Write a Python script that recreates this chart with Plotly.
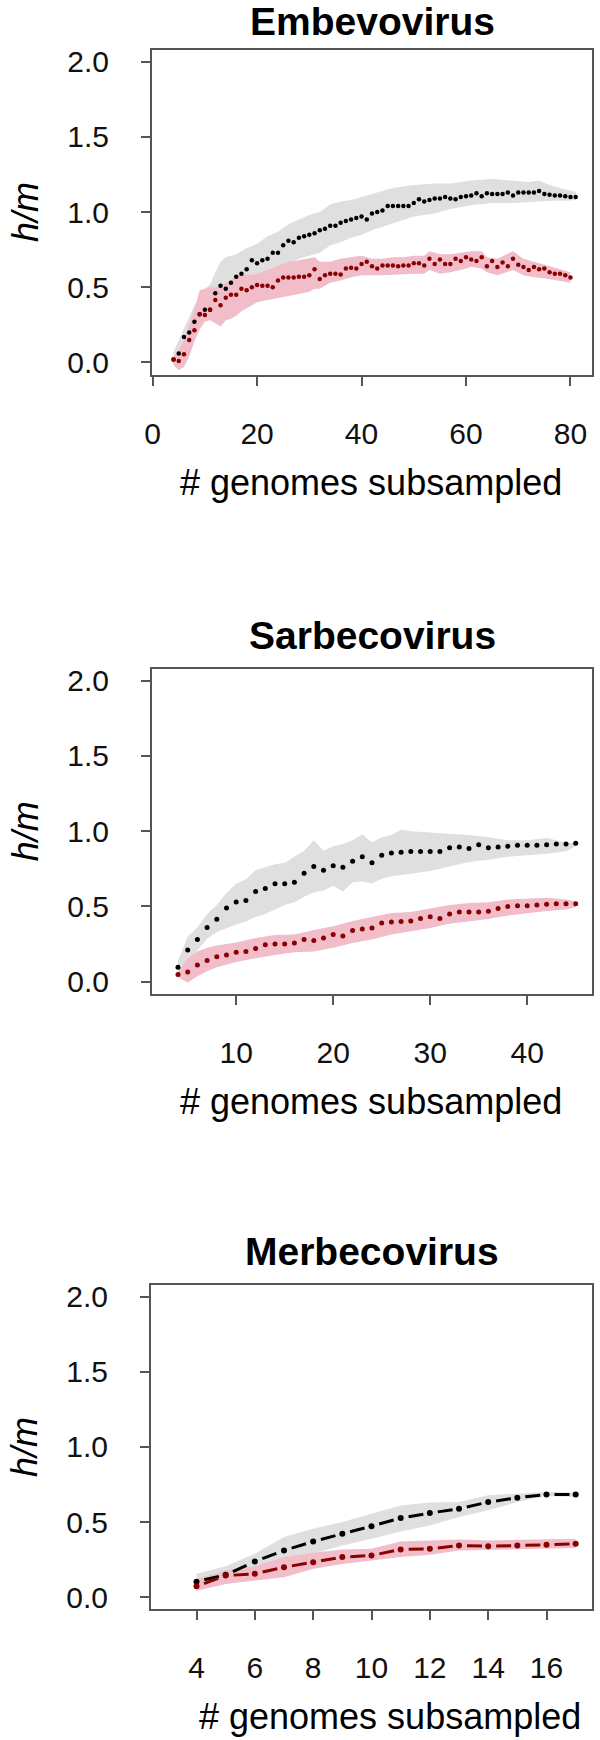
import plotly.graph_objects as go

# ---- Embevovirus ----
emb_x_black = [4, 5, 6, 7, 8, 9, 10, 11, 12, 13, 14, 15, 16, 17, 18, 19, 20, 21, 22, 23, 24, 25, 26, 27, 28, 29,
               30, 31, 32, 33, 34, 35, 36, 37, 38, 39, 40, 41, 42, 43, 44, 45, 46, 47, 48, 49, 50, 51, 52, 53, 54,
               55, 56, 57, 58, 59, 60, 61, 62, 63, 64, 65, 66, 67, 68, 69, 70, 71, 72, 73, 74, 75, 76, 77, 78, 79,
               80, 81]
emb_black = [0.02, 0.06, 0.17, 0.20, 0.27, 0.32, 0.35, 0.35, 0.46, 0.51, 0.49, 0.53, 0.57, 0.59, 0.62, 0.68,
             0.66, 0.68, 0.69, 0.73, 0.73, 0.78, 0.81, 0.80, 0.83, 0.84, 0.85, 0.86, 0.88, 0.89, 0.91, 0.91,
             0.93, 0.94, 0.95, 0.96, 0.97, 0.95, 0.99, 1.00, 1.01, 1.04, 1.04, 1.04, 1.04, 1.04, 1.06, 1.085,
             1.07, 1.08, 1.09, 1.09, 1.10, 1.09, 1.085, 1.10, 1.105, 1.11, 1.125, 1.105, 1.125, 1.12, 1.12,
             1.12, 1.13, 1.11, 1.13, 1.13, 1.13, 1.13, 1.14, 1.12, 1.115, 1.11, 1.11, 1.105, 1.10, 1.10]
emb_x_red = emb_x_black[:-1]
emb_red = [0.02, 0.01, 0.055, 0.15, 0.215, 0.32, 0.315, 0.35, 0.415, 0.38, 0.43, 0.45, 0.45, 0.49, 0.48, 0.50,
           0.515, 0.51, 0.51, 0.50, 0.545, 0.565, 0.565, 0.565, 0.57, 0.57, 0.58, 0.62, 0.555, 0.58, 0.59, 0.59,
           0.585, 0.625, 0.63, 0.625, 0.655, 0.67, 0.64, 0.625, 0.645, 0.645, 0.645, 0.64, 0.645, 0.645, 0.66,
           0.66, 0.645, 0.69, 0.655, 0.685, 0.655, 0.655, 0.69, 0.675, 0.70, 0.685, 0.675, 0.70, 0.64, 0.675,
           0.635, 0.665, 0.64, 0.69, 0.65, 0.635, 0.615, 0.635, 0.62, 0.625, 0.60, 0.59, 0.59, 0.58, 0.565]
emb_band_x_grey = [4, 6, 8, 10, 11, 12, 13, 14, 16, 18, 20, 22, 24, 26, 28, 30, 32, 34, 36, 38, 40, 42, 46, 50,
                   54, 57, 61, 65, 69, 72, 74, 76, 79, 81]
emb_grey_hi = [0.07, 0.22, 0.38, 0.49, 0.52, 0.60, 0.67, 0.70, 0.72, 0.76, 0.79, 0.84, 0.87, 0.92, 0.95, 0.98,
               1.00, 1.05, 1.07, 1.08, 1.10, 1.12, 1.16, 1.18, 1.19, 1.19, 1.21, 1.22, 1.21, 1.20, 1.21, 1.18,
               1.15, 1.135]
emb_grey_lo = [-0.01, 0.12, 0.24, 0.33, 0.36, 0.40, 0.42, 0.45, 0.48, 0.52, 0.56, 0.60, 0.63, 0.66, 0.69, 0.71,
               0.73, 0.78, 0.80, 0.83, 0.85, 0.88, 0.925, 0.97, 0.99, 1.02, 1.045, 1.06, 1.06, 1.07, 1.07, 1.075,
               1.075, 1.08]
emb_band_x_pink = [4, 5, 6, 7, 8, 9, 10, 11, 12, 13, 14, 15, 16, 17, 18, 20, 22, 24, 26, 28, 30, 31, 32, 34, 36,
                   38, 40, 42, 44, 46, 48, 50, 52, 53, 55, 57, 59, 61, 63, 64, 66, 69, 71, 73, 75, 77, 80]
emb_pink_hi = [0.04, 0.08, 0.15, 0.25, 0.35, 0.48, 0.49, 0.50, 0.50, 0.51, 0.53, 0.55, 0.57, 0.59, 0.58, 0.59,
               0.615, 0.64, 0.67, 0.68, 0.69, 0.70, 0.67, 0.67, 0.69, 0.70, 0.71, 0.69, 0.69, 0.70, 0.70, 0.71,
               0.71, 0.74, 0.72, 0.72, 0.73, 0.74, 0.74, 0.70, 0.69, 0.74, 0.69, 0.67, 0.65, 0.63, 0.60]
emb_pink_lo = [-0.02, -0.05, -0.03, 0.04, 0.14, 0.22, 0.27, 0.28, 0.26, 0.24, 0.28, 0.29, 0.31, 0.34, 0.36, 0.40,
               0.415, 0.43, 0.44, 0.455, 0.47, 0.49, 0.49, 0.53, 0.545, 0.566, 0.58, 0.58, 0.58, 0.585, 0.585,
               0.59, 0.59, 0.615, 0.59, 0.60, 0.615, 0.637, 0.625, 0.60, 0.58, 0.615, 0.58, 0.566, 0.56, 0.55, 0.53]

# ---- Sarbecovirus ----
sar_x = [4, 5, 6, 7, 8, 9, 10, 11, 12, 13, 14, 15, 16, 17, 18, 19, 20, 21, 22, 23, 24, 25, 26, 27, 28, 29, 30,
         31, 32, 33, 34, 35, 36, 37, 38, 39, 40, 41, 42, 43, 44, 45]
sar_black = [0.095, 0.21, 0.28, 0.36, 0.415, 0.49, 0.53, 0.54, 0.60, 0.62, 0.65, 0.65, 0.66, 0.72, 0.765, 0.74,
             0.77, 0.76, 0.80, 0.83, 0.79, 0.84, 0.855, 0.86, 0.865, 0.865, 0.865, 0.865, 0.89, 0.895, 0.885,
             0.91, 0.89, 0.895, 0.90, 0.907, 0.907, 0.907, 0.91, 0.915, 0.915, 0.92]
sar_red = [0.048, 0.064, 0.11, 0.14, 0.166, 0.178, 0.195, 0.20, 0.22, 0.245, 0.25, 0.25, 0.257, 0.28, 0.273, 0.29,
           0.314, 0.304, 0.34, 0.35, 0.356, 0.39, 0.397, 0.40, 0.404, 0.42, 0.432, 0.42, 0.45, 0.463, 0.463,
           0.463, 0.468, 0.487, 0.50, 0.504, 0.504, 0.51, 0.515, 0.518, 0.518, 0.518]
sar_band_x_grey = [4, 5, 6, 7, 8, 9, 10, 11, 12, 13, 14, 15, 16, 17, 18, 19, 20, 21, 22, 23, 24, 25, 26, 27, 28,
                   30, 32, 34, 36, 38, 40, 42, 44, 45]
sar_grey_hi = [0.14, 0.30, 0.36, 0.45, 0.51, 0.59, 0.65, 0.68, 0.74, 0.76, 0.78, 0.79, 0.83, 0.87, 0.94, 0.87,
               0.90, 0.915, 0.94, 0.98, 0.925, 0.96, 0.975, 1.01, 1.0, 0.99, 0.985, 0.975, 0.96, 0.94, 0.94,
               0.955, 0.925, 0.92]
sar_grey_lo = [0.095, 0.13, 0.21, 0.285, 0.33, 0.356, 0.38, 0.40, 0.43, 0.45, 0.48, 0.51, 0.527, 0.565, 0.594,
               0.606, 0.637, 0.60, 0.66, 0.665, 0.653, 0.684, 0.70, 0.71, 0.717, 0.736, 0.765, 0.796, 0.81, 0.83,
               0.84, 0.85, 0.867, 0.90]
sar_band_x_pink = [4, 5, 6, 7, 8, 10, 12, 14, 16, 18, 20, 22, 24, 26, 28, 30, 32, 34, 36, 38, 40, 42, 44, 45]
sar_pink_hi = [0.07, 0.155, 0.20, 0.225, 0.24, 0.26, 0.29, 0.31, 0.314, 0.344, 0.368, 0.404, 0.43, 0.456, 0.463,
               0.487, 0.51, 0.523, 0.527, 0.546, 0.553, 0.558, 0.546, 0.534]
sar_pink_lo = [0.03, -0.005, 0.036, 0.07, 0.095, 0.13, 0.155, 0.178, 0.195, 0.20, 0.225, 0.257, 0.28, 0.314,
               0.333, 0.356, 0.385, 0.40, 0.416, 0.44, 0.456, 0.47, 0.48, 0.494]

# ---- Merbecovirus ----
mer_x = [4, 5, 6, 7, 8, 9, 10, 11, 12, 13, 14, 15, 16, 17]
mer_black = [0.104, 0.149, 0.238, 0.311, 0.371, 0.422, 0.473, 0.527, 0.56, 0.589, 0.633, 0.662, 0.684, 0.684]
mer_red = [0.073, 0.144, 0.156, 0.20, 0.233, 0.267, 0.278, 0.318, 0.322, 0.344, 0.34, 0.344, 0.349, 0.356]
mer_grey_hi = [0.156, 0.207, 0.29, 0.40, 0.456, 0.50, 0.556, 0.61, 0.63, 0.633, 0.678, 0.69, 0.70, 0.696]
mer_grey_lo = [0.067, 0.122, 0.178, 0.233, 0.29, 0.344, 0.39, 0.438, 0.478, 0.533, 0.578, 0.633, 0.673, 0.667]
mer_pink_hi = [0.122, 0.178, 0.207, 0.267, 0.296, 0.318, 0.322, 0.371, 0.378, 0.384, 0.378, 0.382, 0.389, 0.389]
mer_pink_lo = [0.044, 0.089, 0.111, 0.133, 0.189, 0.222, 0.244, 0.267, 0.282, 0.311, 0.311, 0.318, 0.322, 0.327]

titles = ["Embevovirus", "Sarbecovirus", "Merbecovirus"]
x_ticks = [[0, 20, 40, 60, 80], [10, 20, 30, 40], [4, 6, 8, 10, 12, 14, 16]]
x_ranges = [[-0.12, 84.12], [1.32, 46.68], [2.44, 17.56]]
y_ticks = [0, 0.5, 1.0, 1.5, 2.0]

GREY_BAND = "#dfdfdf"
PINK_BAND = "#f0bdc8"
BLACK = "#000000"
DARK_RED = "#8b0000"
AXIS = "#555555"
FONT = "Arial, Liberation Sans, sans-serif"

W, H = 600, 1740
# plot boxes in pixels: (left, top, right, bottom)
boxes = [(152, 49.7, 592, 374.5), (152, 668.7, 592, 993.7), (151, 1284.5, 592, 1609.3)]


def band(fig, x, hi, lo, color, n):
    fig.add_trace(go.Scatter(
        x=list(x) + list(x)[::-1], y=list(hi) + list(lo)[::-1],
        fill="toself", fillcolor=color, mode="lines", line={"width": 0},
        hoverinfo="skip", showlegend=False, xaxis=f"x{n}", yaxis=f"y{n}",
    ))


def dots(fig, x, y, color, n, size):
    fig.add_trace(go.Scatter(
        x=x, y=y, mode="markers", marker={"color": color, "size": size},
        showlegend=False, xaxis=f"x{n}", yaxis=f"y{n}",
    ))


def dashdot(fig, x, y, color, n):
    # one dash between each pair of neighbouring points, dot on each point
    for i in range(len(x) - 1):
        fig.add_trace(go.Scatter(
            x=x[i:i + 2], y=y[i:i + 2], mode="lines",
            line={"color": color, "width": 3, "dash": "1px,7px,15px,40px"},
            showlegend=False, xaxis=f"x{n}", yaxis=f"y{n}",
        ))
    dots(fig, x, y, color, n, 6)


fig = go.Figure()

band(fig, emb_band_x_grey, emb_grey_hi, emb_grey_lo, GREY_BAND, 1)
band(fig, emb_band_x_pink, emb_pink_hi, emb_pink_lo, PINK_BAND, 1)
dots(fig, emb_x_black, emb_black, BLACK, 1, 4.5)
dots(fig, emb_x_red, emb_red, DARK_RED, 1, 4.5)

band(fig, sar_band_x_grey, sar_grey_hi, sar_grey_lo, GREY_BAND, 2)
band(fig, sar_band_x_pink, sar_pink_hi, sar_pink_lo, PINK_BAND, 2)
dots(fig, sar_x, sar_black, BLACK, 2, 5)
dots(fig, sar_x, sar_red, DARK_RED, 2, 5)

band(fig, mer_x, mer_grey_hi, mer_grey_lo, GREY_BAND, 3)
band(fig, mer_x, mer_pink_hi, mer_pink_lo, PINK_BAND, 3)
dashdot(fig, mer_x, mer_black, BLACK, 3)
dashdot(fig, mer_x, mer_red, DARK_RED, 3)

layout = {}
annotations = []
for i, (left, top, right, bottom) in enumerate(boxes):
    n = i + 1
    suffix = "" if n == 1 else str(n)
    axis_common = dict(
        showline=True, mirror=True, linecolor=AXIS, linewidth=2,
        ticks="outside", ticklen=9, tickwidth=2, tickcolor=AXIS,
        showgrid=False, zeroline=False, automargin=False,
        tickfont={"family": FONT, "size": 30, "color": "#111111"},
    )
    layout[f"xaxis{suffix}"] = dict(
        axis_common, domain=[left / W, right / W], anchor=f"y{n}",
        range=x_ranges[i], tickvals=x_ticks[i], ticklabelstandoff=22,
    )
    layout[f"yaxis{suffix}"] = dict(
        axis_common, domain=[1 - bottom / H, 1 - top / H], anchor=f"x{n}",
        range=[-0.08, 2.08], tickvals=y_ticks, tickformat=".1f", ticklabelstandoff=26,
    )
    cx = (left + right) / 2
    title_y = max(top - 33.5, 22)
    annotations.append(dict(
        text=f"<b>{titles[i]}</b>", x=cx / W, y=1 - title_y / H, xref="paper", yref="paper",
        xanchor="center", yanchor="middle", showarrow=False,
        font={"family": FONT, "size": 39, "color": "#000000"},
    ))
    title_cx = 390 if n == 3 else 371
    if n == 3:
        # last axis title sits right on the bottom edge of the page
        title_pos = dict(y=1 / H, yanchor="bottom")
    else:
        title_pos = dict(y=1 - (bottom + 108) / H, yanchor="middle")
    annotations.append(dict(
        text="# genomes subsampled", x=title_cx / W, xref="paper", yref="paper",
        xanchor="center", showarrow=False,
        font={"family": FONT, "size": 36, "color": "#000000"}, **title_pos,
    ))
    annotations.append(dict(
        text="<i>h/m</i>", x=25 / W, y=1 - (top + bottom) / 2 / H, xref="paper", yref="paper",
        xanchor="center", yanchor="middle", textangle=-90, showarrow=False,
        font={"family": FONT, "size": 36, "color": "#000000"},
    ))

fig.update_layout(
    width=W, height=H,
    margin={"l": 0, "r": 0, "t": 0, "b": 0},
    paper_bgcolor="white", plot_bgcolor="white",
    annotations=annotations,
    **layout,
)

# the page's default body margin would push the 600x1740 figure off the window
fig.write_html(
    "out.html",
    config={"displayModeBar": False},
    post_script="document.body.style.margin = '0';",
)
